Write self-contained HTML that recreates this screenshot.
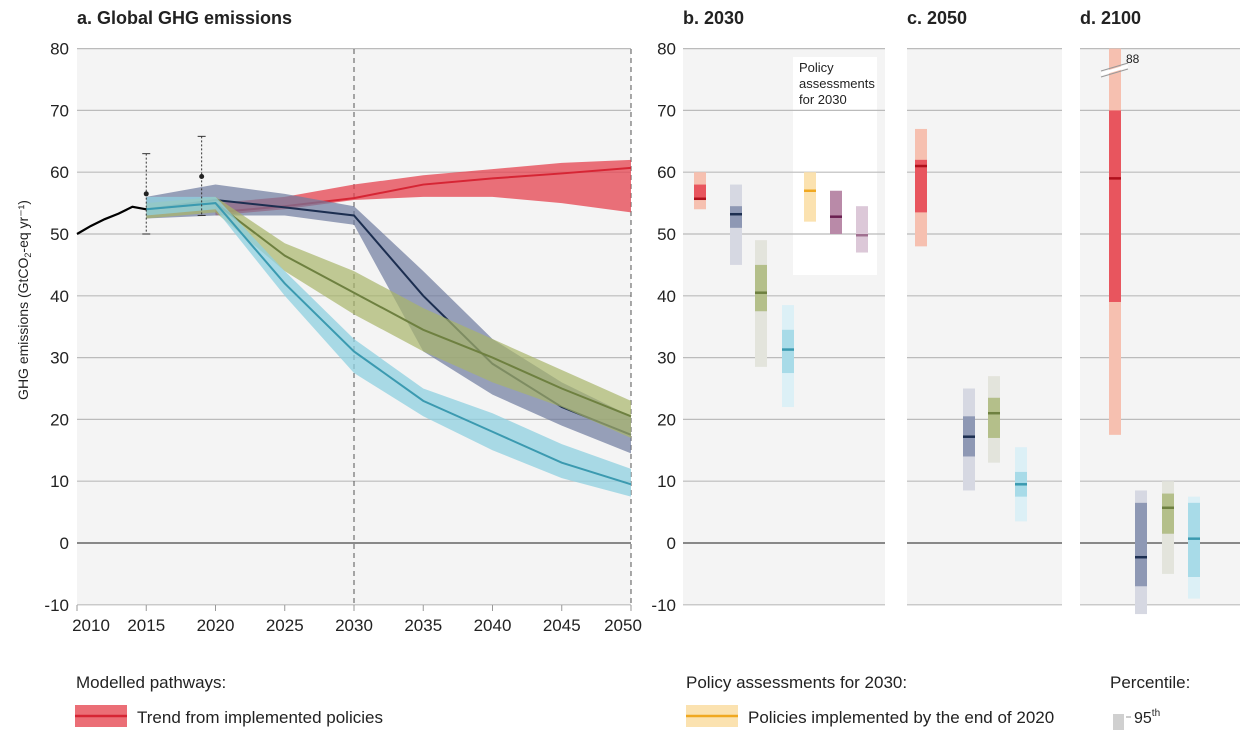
<!DOCTYPE html><html><head><meta charset="utf-8"><style>
body{margin:0;background:#fff;width:1254px;height:730px;overflow:hidden}
svg text{font-family:"Liberation Sans Narrow","Liberation Sans",sans-serif;fill:#222}
</style></head><body>
<svg id="s" width="1254" height="730" xmlns="http://www.w3.org/2000/svg"></svg>
<script>
const s=document.getElementById('s');let h='';
const Y=v=>543-v*6.18, X=yr=>77+(yr-2010)*13.85;
// backgrounds
h+=`<rect x="77" y="49" width="554" height="556" fill="#f4f4f4"/>`;
const P=[[683,885],[907,1062],[1080,1240]];
P.forEach(p=>h+=`<rect x="${p[0]}" y="49" width="${p[1]-p[0]}" height="556" fill="#f4f4f4"/>`);
h+=`<rect x="793" y="57" width="84" height="218" fill="#fff"/>`;
for(let v=-10;v<=80;v+=10){const y=Y(v),c=v==0?'#888':'#bbb',w=v==0?2:1.2;
h+=`<line x1="77" x2="631" y1="${y}" y2="${y}" stroke="${c}" stroke-width="${w}"/>`;
P.forEach(p=>h+=`<line x1="${p[0]}" x2="${p[1]}" y1="${y}" y2="${y}" stroke="${c}" stroke-width="${w}"/>`);
h+=`<text x="69" y="${y+6}" font-size="17" text-anchor="end">${v}</text>`;
h+=`<text x="676" y="${y+6}" font-size="17" text-anchor="end">${v}</text>`;}
for(let yr=2010;yr<=2050;yr+=5){h+=`<line x1="${X(yr)}" x2="${X(yr)}" y1="605" y2="611" stroke="#999"/><text x="${X(yr)+(yr==2010?14:yr==2050?-8:0)}" y="631" font-size="17" text-anchor="middle">${yr}</text>`;}
[2030,2050].forEach(yr=>h+=`<line x1="${X(yr)}" x2="${X(yr)}" y1="49" y2="605" stroke="#555" stroke-dasharray="5,4"/>`);
function band(yrs,lo,hi,med,fill,line,op){let pts=yrs.map((t,i)=>X(t)+','+Y(hi[i])).concat(yrs.map((t,i)=>X(t)+','+Y(lo[i])).reverse());
h+=`<polygon points="${pts.join(' ')}" fill="${fill}" opacity="${op}"/>`;
h+=`<polyline points="${yrs.map((t,i)=>X(t)+','+Y(med[i])).join(' ')}" fill="none" stroke="${line}" stroke-width="2"/>`;}
const T=[2015,2020,2025,2030,2035,2040,2045,2050];
band([2020,2025,2030,2035,2040,2045,2050],[53,54,55.5,56,56,55,53.5],[55,56,58,59.5,60.5,61.5,62],[53.5,54.5,55.8,58,59,59.8,60.7],'#e5434f','#d62534',0.75);
band(T,[52.5,53,53,51.5,31,24,19,14.5],[56,58,56.5,54.5,44,33,26,20.5],[54,55.5,54.3,53,40,29,22,17.5],'#6e7a9e','#1c2e50',0.7);
band(T,[52.5,53.5,44,37,31,26,22,17],[55,56,48.5,44,38,33,28,23],[54,55,46.5,40.5,34.5,30,25,20.5],'#a8b56a','#6e8040',0.7);
band(T,[53,54,40,27.5,20.5,15,10.5,7.5],[56,56,44,33,25,21,16,12],[54,55,42,31,23,18,13,9.5],'#8fd0e0','#3b9ab0',0.75);
h+=`<polyline points="${[[2010,50],[2011,51.3],[2012,52.4],[2013,53.3],[2014,54.4],[2015,54]].map(p=>X(p[0])+','+Y(p[1])).join(' ')}" fill="none" stroke="#000" stroke-width="2.2"/>`;
[[2015,50,63,56.5],[2019,53,65.8,59.3]].forEach(e=>{const x=X(e[0]);h+=`<line x1="${x}" x2="${x}" y1="${Y(e[2])}" y2="${Y(e[1])}" stroke="#333" stroke-dasharray="2,2"/><line x1="${x-4}" x2="${x+4}" y1="${Y(e[2])}" y2="${Y(e[2])}" stroke="#333"/><line x1="${x-4}" x2="${x+4}" y1="${Y(e[1])}" y2="${Y(e[1])}" stroke="#333"/><circle cx="${x}" cy="${Y(e[3])}" r="2.5" fill="#222"/>`;});
function bar(x,l,d,m,cl,cd,cm){h+=`<rect x="${x-6}" y="${Y(l[1])}" width="12" height="${Y(l[0])-Y(l[1])}" fill="${cl}"/>`;
if(d)h+=`<rect x="${x-6}" y="${Y(d[1])}" width="12" height="${Y(d[0])-Y(d[1])}" fill="${cd}"/>`;
h+=`<line x1="${x-6}" x2="${x+6}" y1="${Y(m)}" y2="${Y(m)}" stroke="${cm}" stroke-width="2.5"/>`;}
const R=['#f6c0b0','#e8555e','#b0101c'],N=['#d6d8e2','#8e98b4','#1c2e50'],G=['#e3e4dc','#b4bf8a','#6e8040'],C=['#dcf0f6','#a8dbe8','#3b9ab0'];
bar(700,[54,60],[55.5,58],55.7,...R);bar(736,[45,58],[51,54.5],53.2,...N);bar(761,[28.5,49],[37.5,45],40.5,...G);bar(788,[22,38.5],[27.5,34.5],31.3,...C);
bar(810,[52,60],null,57,'#fbe2b0','','#f0a820');bar(836,[50,57],null,52.8,'#b98aa8','','#6a1f50');bar(862,[47,54.5],null,49.8,'#dcc8d8','','#a07090');
bar(921,[48,67],[53.5,62],61,...R);bar(969,[8.5,25],[14,20.5],17.2,...N);bar(994,[13,27],[17,23.5],21,...G);bar(1021,[3.5,15.5],[7.5,11.5],9.5,...C);
bar(1115,[17.5,80],[39,70],59,...R);bar(1141,[-11.5,8.5],[-7,6.5],-2.3,...N);bar(1168,[-5,10],[1.5,8],5.7,...G);bar(1194,[-9,7.5],[-5.5,6.5],0.7,...C);
h+=`<line x1="1101" x2="1128" y1="74" y2="66" stroke="#fff" stroke-width="3"/><line x1="1101" x2="1128" y1="71" y2="63" stroke="#999"/><line x1="1101" x2="1128" y1="77" y2="69" stroke="#999"/><text x="1126" y="63" font-size="12">88</text>`;
h+=`<text x="799" y="72" font-size="13">Policy</text><text x="799" y="88" font-size="13">assessments</text><text x="799" y="104" font-size="13">for 2030</text>`;
h+=`<text x="77" y="24" font-size="18" font-weight="bold">a. Global GHG emissions</text><text x="683" y="24" font-size="18" font-weight="bold">b. 2030</text><text x="907" y="24" font-size="18" font-weight="bold">c. 2050</text><text x="1080" y="24" font-size="18" font-weight="bold">d. 2100</text>`;
h+=`<text transform="translate(28,300) rotate(-90)" font-size="14" text-anchor="middle">GHG emissions (GtCO<tspan font-size="9" dy="3">2</tspan><tspan dy="-3">-eq yr⁻¹)</tspan></text>`;
h+=`<text x="76" y="688" font-size="17">Modelled pathways:</text><rect x="75" y="705" width="52" height="22" fill="#e8555e" opacity=".85"/><line x1="75" x2="127" y1="716" y2="716" stroke="#d62534" stroke-width="2.5"/><text x="137" y="723" font-size="17">Trend from implemented policies</text>`;
h+=`<text x="686" y="688" font-size="17">Policy assessments for 2030:</text><rect x="686" y="705" width="52" height="22" fill="#fbe2b0"/><line x1="686" x2="738" y1="716" y2="716" stroke="#f0a820" stroke-width="2.5"/><text x="748" y="723" font-size="17">Policies implemented by the end of 2020</text>`;
h+=`<text x="1110" y="688" font-size="17">Percentile:</text><rect x="1113" y="714" width="11" height="16" fill="#d0d0d0"/><line x1="1126" x2="1131" y1="717" y2="717" stroke="#999"/><text x="1134" y="723" font-size="16">95<tspan font-size="10" dy="-7">th</tspan></text>`;
s.innerHTML=h;
</script></body></html>
